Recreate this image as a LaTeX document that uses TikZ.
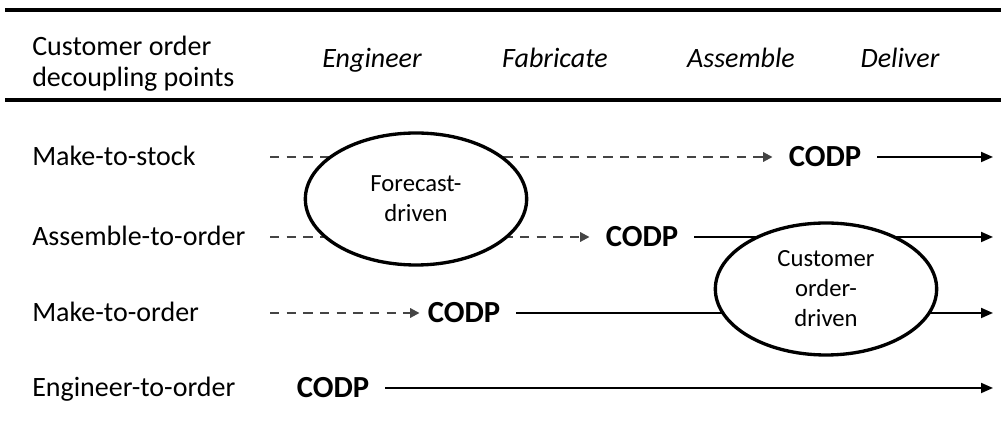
\documentclass[tikz,border=0pt]{standalone}
\usepackage{fontspec}
\setmainfont{Carlito}
\usepackage{tikz}
\usetikzlibrary{positioning,arrows.meta,shapes.geometric,calc}
\definecolor{planline}{RGB}{68,68,68}
\tikzset{
  rowlabel/.style={anchor=base west,inner sep=0pt,font=\fontsize{21}{23}\selectfont},
  phase/.style={anchor=base,inner sep=0pt,font=\fontsize{21}{23}\selectfont\itshape},
  codp/.style={inner xsep=12pt,inner ysep=0pt,font=\fontsize{23}{26}\selectfont\bfseries},
  driver/.style={ellipse,draw=black,line width=2.5pt,fill=white,align=center,inner sep=0pt,
    minimum width=166pt,minimum height=99pt,font=\fontsize{18.5}{22.5}\selectfont},
  planedge/.style={-{Triangle[length=7pt,width=7pt]},draw=planline,line width=1.5pt,
    dash pattern=on 7pt off 5.5pt},
  orderedge/.style={-{Triangle[length=9pt,width=7.5pt]},line width=1.4pt},
  hrule/.style={line width=3pt}
}
\begin{document}
\begin{tikzpicture}[x=0.75pt,y=-0.75pt]
  \useasboundingbox (0,0) rectangle (1001,448);
  % table head
  \draw[hrule] (5,10) -- (1001,10);
  \draw[hrule] (5,100) -- (1001,100);
  \node[anchor=west,inner sep=0pt,align=left,font=\fontsize{21}{23.5}\selectfont] (head) at (32,64) {Customer order\\decoupling points};
  \node[phase] (eng) at (372,68) {Engineer};
  \node[phase] (fab) at (555,68) {Fabricate};
  \node[phase] (asm) at (741,68) {Assemble};
  \node[phase] (dlv) at (900,68) {Deliver};
  % rows
  \node[rowlabel] (mts) at (32,166) {Make-to-stock};
  \node[rowlabel] (ato) at (32,246) {Assemble-to-order};
  \node[rowlabel] (mto) at (32,322) {Make-to-order};
  \node[rowlabel] (eto) at (32,397) {Engineer-to-order};
  \node[codp] (codpmts) at (825,157) {CODP};
  \node[codp] (codpato) at (642,237) {CODP};
  \node[codp] (codpmto) at (464,313) {CODP};
  \node[codp] (codpeto) at (333,388) {CODP};
  \coordinate (mtsstart) at (270,157);
  \coordinate (atostart) at (270,237);
  \coordinate (mtostart) at (270,313);
  \coordinate (mtsend) at (993,157);
  \coordinate (atoend) at (993,237);
  \coordinate (mtoend) at (993,313);
  \coordinate (etoend) at (993,388);
  \draw[planedge] (mtsstart) -- (codpmts);
  \draw[planedge] (atostart) -- (codpato);
  \draw[planedge,shorten >=-6pt] (mtostart) -- (codpmto);
  \draw[orderedge] (codpmts) -- (mtsend);
  \draw[orderedge] (codpato) -- (atoend);
  \draw[orderedge] (codpmto) -- (mtoend);
  \draw[orderedge] (codpeto) -- (etoend);
  % driving forces
  \node[driver] (fcst) at (416,199) {Forecast-\\driven};
  \node[driver] (cust) at (826,289) {Customer\\order-\\driven};
\end{tikzpicture}
\end{document}
